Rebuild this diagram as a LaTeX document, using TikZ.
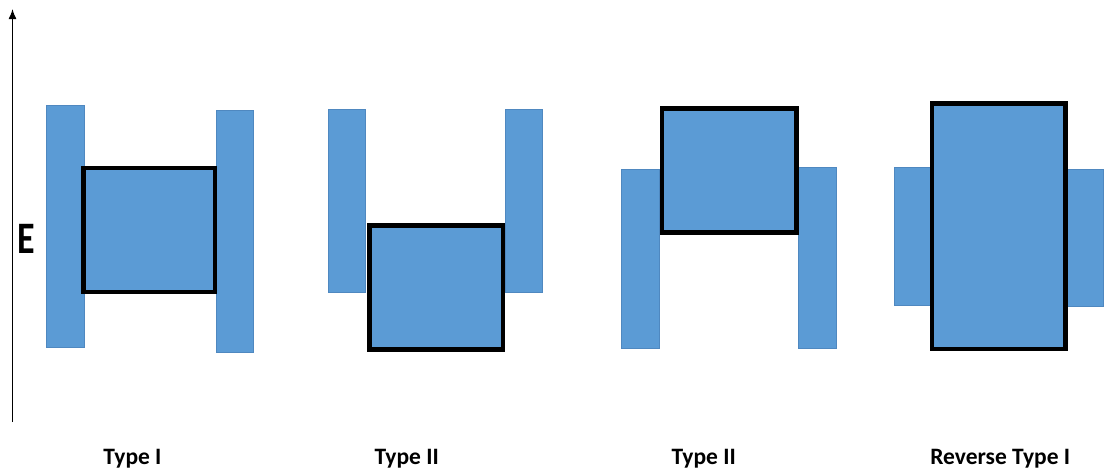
\documentclass[tikz,border=0pt]{standalone}
\usepackage{fontspec}
\setmainfont{Carlito}
\usetikzlibrary{arrows.meta}
\definecolor{band}{HTML}{5B9BD5}
\definecolor{bandedge}{HTML}{4F88C0}
\tikzset{
  bar/.style={fill=band, draw=bandedge, line width=0.5pt},
  well/.style={fill=band, draw=black, line width=4.5pt, line join=miter},
  lbl/.style={font=\bfseries\fontsize{23.5}{28}\selectfont, anchor=base, inner sep=0pt},
  axis/.style={line width=1.4pt, -{Latex[length=10pt,width=8pt]}}
}
\begin{document}
\begin{tikzpicture}[x=1pt,y=-1pt]
\useasboundingbox (0,0) rectangle (1106,471);
% axis
\coordinate (ax0) at (12.5,422);
\coordinate (ax1) at (12.5,9);
\draw[axis] (ax0) -- (ax1);
\node[inner sep=0pt, anchor=base, font=\bfseries\fontsize{36}{40}\selectfont, yscale=1.25] (E) at (26.7,253) {E};
% Type I
\draw[bar] (46.7,105.7) rectangle (84,347.7);
\draw[bar] (216,110) rectangle (253,352);
\draw[well] (83.7,168) rectangle (215,292);
% Type II (a)
\draw[bar] (328.3,109.3) rectangle (365.7,292.3);
\draw[bar] (505,109.3) rectangle (542.7,292.3);
\draw[well] (369.3,225.3) rectangle (503,349.7);
% Type II (b)
\draw[bar] (621,169) rectangle (659.3,348.3);
\draw[bar] (798.3,167.7) rectangle (836.7,348.3);
\draw[well] (662,108.7) rectangle (796.3,232.3);
% Reverse Type I
\draw[bar] (894,167.7) rectangle (935,305.7);
\draw[bar] (1062,169) rectangle (1103.3,306.3);
\draw[well] (932,103.7) rectangle (1065.7,349);
% labels
\node[lbl] (l1) at (132.5,464) {Type I};
\node[lbl] (l2) at (406.7,464) {Type II};
\node[lbl] (l3) at (703.7,464) {Type II};
\node[lbl] (l4) at (1000.3,464) {Reverse Type I};
\end{tikzpicture}
\end{document}
